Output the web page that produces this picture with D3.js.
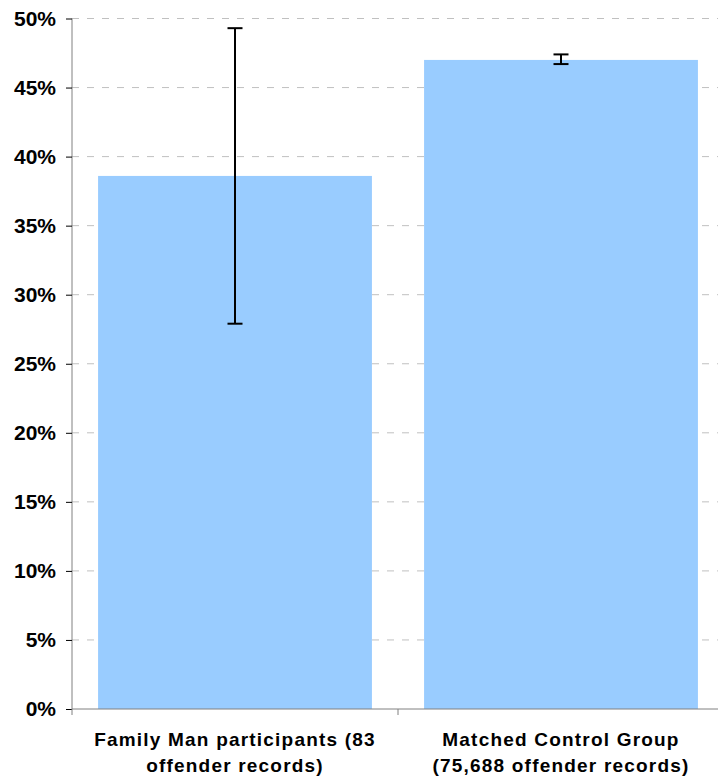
<!DOCTYPE html>
<html><head><meta charset="utf-8">
<script src="https://cdn.jsdelivr.net/npm/d3@7"></script>
<style>body{margin:0;background:#fff;}svg{display:block;}</style>
</head><body>
<script>
const categories = [["Family Man participants (83", "offender records)"], ["Matched Control Group", "(75,688 offender records)"]];
const values = [0.386, 0.470];
const errLow = [0.279, 0.467];
const errHigh = [0.493, 0.474];
const yTicks = [0, 0.05, 0.10, 0.15, 0.20, 0.25, 0.30, 0.35, 0.40, 0.45, 0.50];

(function () {
const W = 718, H = 782;
const svg = d3.select("body").append("svg").attr("width", W).attr("height", H);
const mLeft = 72, mRight = 724, mTop = 18.5, mBottom = 709;
const x = d3.scaleBand().domain(d3.range(categories.length)).range([mLeft, mRight]).paddingInner(0.16).paddingOuter(0.08);
const y = d3.scaleLinear().domain([0, 0.5]).range([mBottom, mTop]);

// gridlines
svg.append("g").selectAll("line").data(yTicks.slice(1)).join("line")
  .attr("x1", mLeft).attr("x2", W).attr("y1", d => y(d)).attr("y2", d => y(d))
  .attr("stroke", "#c0c0c0").attr("stroke-width", 1).attr("stroke-dasharray", "7,8");

// bars
svg.append("g").selectAll("rect").data(values).join("rect")
  .attr("x", (d, i) => x(i)).attr("width", x.bandwidth())
  .attr("y", d => y(d)).attr("height", d => mBottom - y(d))
  .attr("fill", "#99CCFF");

// error bars
const eb = svg.append("g").attr("stroke", "#000").attr("stroke-width", 2);
values.forEach((v, i) => {
  const cx = x(i) + x.bandwidth() / 2;
  eb.append("line").attr("x1", cx).attr("x2", cx).attr("y1", y(errLow[i])).attr("y2", y(errHigh[i]));
  eb.append("line").attr("x1", cx - 7.5).attr("x2", cx + 7.5).attr("y1", y(errLow[i])).attr("y2", y(errLow[i]));
  eb.append("line").attr("x1", cx - 7.5).attr("x2", cx + 7.5).attr("y1", y(errHigh[i])).attr("y2", y(errHigh[i]));
});

// y axis
const yAxis = d3.axisLeft(y).tickValues(yTicks).tickFormat(d3.format(".0%")).tickSize(6).tickPadding(10);
const gy = svg.append("g").attr("transform", `translate(${mLeft},0)`).call(yAxis);
gy.attr("font-size", null).attr("font-family", null);
gy.select(".domain").attr("stroke", "#808080").attr("d", `M0,${mTop}V${mBottom}`);
gy.selectAll(".tick line").attr("stroke", "#000");
gy.selectAll("text").style("font-family", "'Liberation Sans', Arial, sans-serif").style("font-weight", "bold").style("font-size", "21px").attr("fill", "#000");

// x axis
const xs = d3.scaleLinear().domain([0, categories.length]).range([mLeft, mRight]);
const gx = svg.append("g").attr("transform", `translate(0,${mBottom})`);
gx.append("line").attr("x1", mLeft).attr("x2", W).attr("stroke", "#808080");
gx.selectAll(".t").data(d3.range(categories.length + 1)).join("line")
  .attr("x1", d => xs(d)).attr("x2", d => xs(d)).attr("y1", 0).attr("y2", 6).attr("stroke", "#808080");
const lbl = svg.append("g").style("font-family", "'Liberation Sans', Arial, sans-serif").style("font-weight", "bold").style("font-size", "19px").style("letter-spacing", "1.2px").attr("text-anchor", "middle");
categories.forEach((c, i) => {
  const cx = x(i) + x.bandwidth() / 2;
  c.forEach((line, j) => {
    lbl.append("text").attr("x", cx).attr("y", 746 + j * 25.5).text(line);
  });
});
})();
</script>
</body></html>
